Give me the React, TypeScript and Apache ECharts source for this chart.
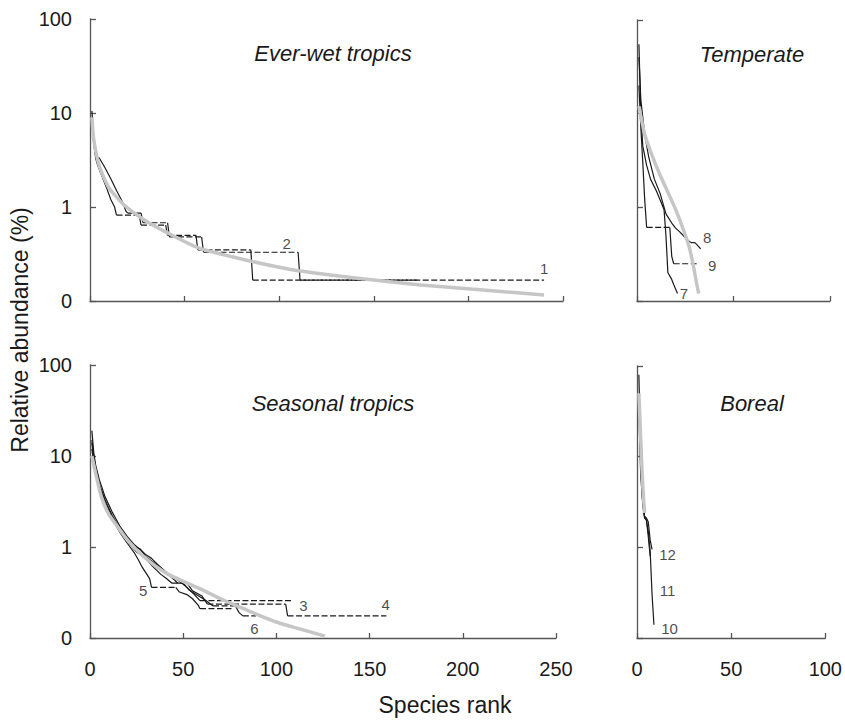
import React, { useEffect, useRef } from "react";
import * as echarts from "echarts";

// ---------- data (rank, relative abundance %) ----------
const everWet1: [number, number][] = [[1, 8.5], [2, 4.6], [3, 3.3], [4, 2.8], [6, 2.2], [9, 1.55], [11, 1.2], [13, 1.0], [14, 0.82], [26, 0.82], [27, 0.64], [40, 0.64], [41, 0.5], [56, 0.5], [57, 0.35], [85, 0.35], [86, 0.167], [240, 0.167]];
const everWet2: [number, number][] = [[1, 10.5], [2, 5.5], [3, 3.8], [4, 3.4], [5, 3.3], [8, 2.6], [11, 2.0], [14, 1.5], [17, 1.15], [19, 0.9], [20, 0.86], [27, 0.86], [28, 0.68], [41, 0.68], [42, 0.48], [59, 0.48], [60, 0.33], [110, 0.33], [111, 0.167], [173, 0.167]];
const everWetFit: [number, number][] = [[1, 9], [2, 5.2], [5, 2.7], [10, 1.6], [18, 1.05], [30, 0.7], [41, 0.53], [57, 0.37], [80, 0.28], [110, 0.21], [150, 0.167], [175, 0.148], [240, 0.116]];

const temperate7: [number, number][] = [[1, 55], [2, 10], [3, 4.5], [5, 2.8], [7, 2.0], [10, 1.5], [12, 1.2], [14, 0.95], [15, 0.5], [16, 0.2], [18, 0.17], [19, 0.15], [21, 0.12]];
const temperate8: [number, number][] = [[1, 40], [2, 14], [4, 6], [6, 3.5], [9, 2.0], [12, 1.4], [15, 0.85], [18, 0.68], [20, 0.6], [22, 0.55], [24, 0.5], [26, 0.45], [28, 0.42], [30, 0.42], [31, 0.4], [33, 0.36]];
const temperate9: [number, number][] = [[1, 20], [2, 7], [3, 3], [4, 1.2], [5, 0.61], [17, 0.61], [18, 0.3], [19, 0.25], [31, 0.25]];
const temperateFit: [number, number][] = [[1, 12], [4, 6], [8, 3.5], [12, 2.2], [16, 1.45], [20, 0.95], [24, 0.58], [27, 0.38], [29, 0.25], [31, 0.15], [32, 0.12]];

const seasonal3: [number, number][] = [[1, 19], [2, 11], [3, 8], [5, 5.5], [8, 3.6], [12, 2.4], [16, 1.7], [20, 1.3], [24, 1.05], [28, 0.9], [30, 0.82], [33, 0.75], [36, 0.65], [40, 0.55], [44, 0.47], [48, 0.42], [52, 0.36], [56, 0.3], [59, 0.257], [109, 0.257]];
const seasonal4: [number, number][] = [[1, 15], [2, 10], [3, 7.5], [5, 5], [8, 3.3], [12, 2.2], [16, 1.6], [20, 1.25], [24, 1.0], [27, 0.95], [30, 0.78], [34, 0.68], [37, 0.6], [41, 0.52], [45, 0.44], [47, 0.4], [52, 0.4], [55, 0.33], [60, 0.29], [63, 0.236], [105, 0.236], [106, 0.175], [159, 0.175]];
const seasonal5: [number, number][] = [[1, 12], [2, 8.5], [3, 6.5], [5, 4.3], [8, 2.9], [12, 2.0], [16, 1.45], [20, 1.1], [24, 0.85], [26, 0.72], [28, 0.6], [30, 0.52], [32, 0.45], [33, 0.36], [46, 0.36], [48, 0.32], [52, 0.3], [55, 0.27], [58, 0.23], [59, 0.21], [77, 0.21]];
const seasonal6: [number, number][] = [[1, 14], [2, 9], [3, 7], [5, 4.8], [8, 3.2], [12, 2.1], [16, 1.5], [20, 1.15], [25, 0.88], [28, 0.8], [31, 0.7], [34, 0.6], [38, 0.5], [41, 0.45], [44, 0.4], [50, 0.4], [53, 0.34], [57, 0.3], [62, 0.26], [66, 0.225], [78, 0.225], [80, 0.19], [82, 0.175], [89, 0.175]];
const seasonalFit: [number, number][] = [[1, 10], [3, 6.5], [6, 3.6], [10, 2.3], [15, 1.65], [20, 1.2], [27, 0.85], [35, 0.62], [42, 0.5], [50, 0.42], [60, 0.34], [70, 0.27], [80, 0.22], [90, 0.18], [100, 0.15], [110, 0.13], [126, 0.105]];

const boreal10: [number, number][] = [[1, 80], [2, 10], [3, 3.5], [4, 2.2], [5, 2.0], [6, 1.5], [7, 0.9], [8, 0.3], [9, 0.14]];
const boreal11: [number, number][] = [[1, 45], [2, 8], [3, 3], [4, 2.1], [5, 2.0], [6, 1.3], [7, 0.8]];
const boreal12: [number, number][] = [[1, 30], [2, 6], [3, 3.2], [4, 2.2], [5, 2.1], [6, 1.9], [7, 1.2], [8, 0.95]];
const borealFit: [number, number][] = [[1, 50], [2, 15], [3, 5], [4, 2.4]];

// curve number labels: [panel, rank, abundance, text]
const curveLabels: [number, number, number, string][] = [
  [0, 104, 0.41, "2"], [0, 240, 0.224, "1"],
  [1, 36.3, 0.48, "8"], [1, 38.9, 0.24, "9"], [1, 24.3, 0.12, "7"],
  [2, 114.5, 0.23, "3"], [2, 158.6, 0.236, "4"], [2, 28.5, 0.33, "5"], [2, 88.2, 0.126, "6"],
  [3, 16.2, 0.84, "12"], [3, 16.2, 0.33, "11"], [3, 17.3, 0.126, "10"],
];

const panelTitles = ["Ever-wet tropics", "Temperate", "Seasonal tropics", "Boreal"];
const yTicks = [0.1, 1, 10, 100];

const FONT = "'Liberation Sans', Arial, sans-serif";
const INK = "#1a1a1a";
const AXIS = "#555";

function splitCurve(pts: [number, number][]) {
  const solid: any[] = [];
  const dashed: any[] = [];
  for (let i = 0; i < pts.length - 1; i++) {
    const a = pts[i], b = pts[i + 1];
    const target = a[1] === b[1] ? dashed : solid;
    const last = target[target.length - 1];
    if (!last || last[0] !== a[0] || last[1] !== a[1]) {
      if (target.length) target.push([a[0], "-"]);
      target.push([a[0], a[1]]);
    }
    target.push([b[0], b[1]]);
  }
  return { solid, dashed };
}

export default function App() {
  const ref = useRef<HTMLDivElement>(null);
  useEffect(() => {
    const chart = echarts.init(ref.current!, null, { renderer: "svg" });
    const grids = [
      { left: 90, top: 19, width: 473, height: 282 },
      { left: 637, top: 20, width: 193, height: 281 },
      { left: 90, top: 365, width: 466, height: 273 },
      { left: 637, top: 366, width: 191, height: 272 },
    ];
    const xMax = [250, 100, 250, 100];
    const xAxis = grids.map((_, i) => ({
      type: "value", gridIndex: i, min: 0, max: xMax[i], interval: 50,
      axisLine: { show: true, lineStyle: { color: AXIS, width: 1.3 } },
      axisTick: { show: true, inside: true, length: 5, lineStyle: { color: AXIS, width: 1.3 } },
      axisLabel: { show: i >= 2, color: INK, fontSize: 20, fontFamily: FONT, margin: 21 },
      splitLine: { show: false },
    }));
    const yAxis = grids.map((_, i) => ({
      type: "log", logBase: 10, gridIndex: i, min: yTicks[0], max: yTicks[yTicks.length - 1],
      axisLine: { show: true, lineStyle: { color: AXIS, width: 1.3 } },
      axisTick: { show: true, inside: true, length: 6, lineStyle: { color: AXIS, width: 1.3 } },
      axisLabel: {
        show: i % 2 === 0, color: INK, fontSize: 20, fontFamily: FONT, margin: 18,
        formatter: (v: number) => String(Math.round(v)),
      },
      splitLine: { show: false },
    }));

    const curves: [number, [number, number][]][] = [
      [0, everWet1], [0, everWet2],
      [1, temperate7], [1, temperate8], [1, temperate9],
      [2, seasonal3], [2, seasonal4], [2, seasonal5], [2, seasonal6],
      [3, boreal10], [3, boreal11], [3, boreal12],
    ];
    const fits: [number, [number, number][]][] = [[0, everWetFit], [1, temperateFit], [2, seasonalFit], [3, borealFit]];

    const series: any[] = [];
    curves.forEach(([g, pts]) => {
      const { solid, dashed } = splitCurve(pts);
      series.push({
        type: "line", xAxisIndex: g, yAxisIndex: g, data: solid, showSymbol: false, symbol: "none",
        connectNulls: false, lineStyle: { color: INK, width: 1.2 }, z: 3, silent: true,
      });
      series.push({
        type: "line", xAxisIndex: g, yAxisIndex: g, data: dashed, showSymbol: false, symbol: "none",
        connectNulls: false, lineStyle: { color: INK, width: 1.2, type: [6, 2.5] }, z: 3, silent: true,
      });
    });
    fits.forEach(([g, pts]) => {
      series.push({
        type: "line", xAxisIndex: g, yAxisIndex: g, data: pts, showSymbol: false, symbol: "none",
        smooth: 0.2, lineStyle: { color: "#c6c6c6", width: 3.5 }, z: 4, silent: true,
      });
    });
    [0, 1, 2, 3].forEach((g) => {
      series.push({
        type: "scatter", xAxisIndex: g, yAxisIndex: g, symbolSize: 1, silent: true, z: 5,
        itemStyle: { color: "rgba(0,0,0,0)" },
        data: curveLabels.filter((l) => l[0] === g).map((l) => ({ value: [l[1], l[2]], name: l[3] })),
        label: { show: true, position: "inside", formatter: "{b}", color: INK, fontSize: 15, fontFamily: FONT },
      });
    });

    const titlePos = [[333, 53], [752, 54], [333, 403], [752, 403]];
    const graphic: any[] = panelTitles.map((t, i) => ({
      type: "text", x: titlePos[i][0], y: titlePos[i][1],
      style: { text: t, fontSize: 22, fontStyle: "italic", fontFamily: FONT, fill: INK, align: "center", verticalAlign: "middle" },
    }));
    graphic.push({
      type: "text", x: 445, y: 705,
      style: { text: "Species rank", fontSize: 23, fontFamily: FONT, fill: INK, align: "center", verticalAlign: "middle" },
    });
    graphic.push({
      type: "text", x: 20, y: 330, rotation: Math.PI / 2,
      style: { text: "Relative abundance (%)", fontSize: 23, fontFamily: FONT, fill: INK, align: "center", verticalAlign: "middle" },
    });

    chart.setOption({
      animation: false,
      backgroundColor: "#fff",
      grid: grids,
      xAxis,
      yAxis,
      series,
      graphic,
    });
    return () => chart.dispose();
  }, []);
  return <div ref={ref} style={{ position: "absolute", left: 0, top: 0, width: 845, height: 725 }} />;
}
